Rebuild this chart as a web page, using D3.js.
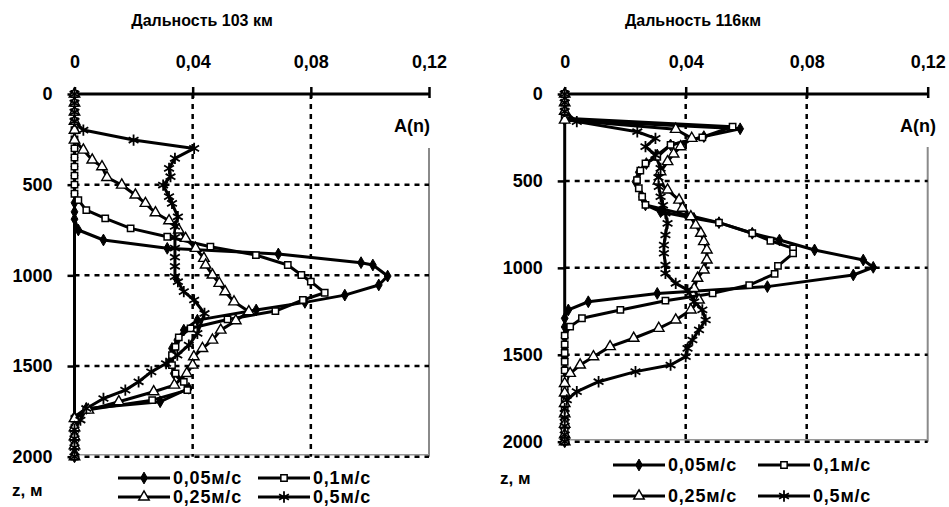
<!DOCTYPE html>
<html>
<head>
<meta charset="utf-8">
<script src="https://d3js.org/d3.v7.min.js"></script>
<style>
  body { margin: 0; background: #fff; }
  svg text { font-family: "Liberation Sans", Arial, sans-serif; font-weight: bold; fill: #000; }
</style>
</head>
<body>
<div id="chart"></div>
<script>
// x ticks, y ticks
const xTicks = [0, 0.04, 0.08, 0.12];
const zTicks = [0, 500, 1000, 1500, 2000];
const seriesNames = ["0,05м/с", "0,1м/с", "0,25м/с", "0,5м/с"];

// 103 km, pairs [A(n), z]
const left005 = [[0,0],[0,50],[0,100],[0,150],[0,200],[0,250],[0,300],[0,350],[0,400],[0,450],[0,500],[0,550],[0,600],[0,650],[0,690],
  [0.0013,750],[0.0098,805],[0.0314,851],[0.069,882],[0.097,930],[0.101,943],[0.106,1004],[0.103,1053],[0.0915,1109],[0.078,1149],
  [0.0615,1191],[0.0416,1247],[0.037,1302],[0.0348,1357],[0.033,1403],[0.0325,1467],[0.0336,1541],[0.0387,1623],[0.029,1697],
  [0.004,1734],[0,1780],[0,1830],[0,1880],[0,1930],[0,1980],[0,2000]];
const left01 = [[0,0],[0,50],[0,100],[0,150],[0,200],[0,250],[0,300],[0,350],[0,400],[0,450],[0,500],[0,550],
  [0.0013,585],[0.004,640],[0.0104,686],[0.019,741],[0.0314,787],[0.046,842],[0.0614,888],[0.0722,943],[0.0768,998],[0.080,1035],
  [0.0847,1096],[0.0773,1136],[0.068,1197],[0.0518,1243],[0.0393,1292],[0.0353,1342],[0.0342,1394],[0.033,1440],[0.033,1495],
  [0.0342,1541],[0.037,1587],[0.0382,1633],[0.0263,1688],[0.004,1743],[0,1790],[0,1840],[0,1890],[0,1940],[0,2000]];
const left025 = [[0,0],[0,50],[0,100],[0,150],[0,200],[0,254],[0.003,309],[0.006,364],[0.0093,401],[0.011,460],[0.016,502],
  [0.0206,557],[0.024,603],[0.0274,655],[0.032,699],[0.0353,750],[0.0376,796],[0.041,851],[0.0438,906],[0.0444,943],[0.0467,998],
  [0.049,1044],[0.051,1090],[0.054,1146],[0.059,1200],[0.0546,1250],[0.0495,1302],[0.0467,1357],[0.0433,1403],[0.0404,1449],
  [0.040,1495],[0.038,1541],[0.0338,1605],[0.0268,1642],[0.015,1697],[0.0047,1743],[0,1790],[0,1840],[0,1890],[0,1940],[0,2000]];
const left05 = [[0,0],[0,50],[0,100],[0,150],[0.003,199],[0.020,254],[0.0405,300],[0.034,355],[0.032,410],[0.0325,456],[0.030,502],
  [0.032,566],[0.033,603],[0.035,677],[0.034,730],[0.034,790],[0.034,850],[0.034,900],[0.034,950],[0.034,1007],[0.035,1035],
  [0.037,1090],[0.0405,1136],[0.044,1210],[0.0416,1320],[0.0387,1385],[0.0348,1440],[0.031,1486],[0.026,1532],[0.0217,1587],
  [0.0172,1633],[0.0098,1679],[0.004,1734],[0.002,1798],[0,1850],[0,1900],[0,1950],[0,2000]];

// 116 km
const right005 = [[0,0],[0,50],[0,100],[0,150],[0.058,200],[0.046,245],[0.035,293],[0.0306,351],[0.027,400],[0.0245,450],
  [0.0234,504],[0.0256,591],[0.0267,638],[0.0317,677],[0.0427,715],[0.051,740],[0.062,801],[0.071,840],[0.0826,897],[0.0987,955],
  [0.102,997],[0.0954,1041],[0.067,1108],[0.0306,1147],[0.0078,1195],[0.0012,1242],[0,1290],[0,1340],[0,1400],[0,1460],[0,1520],
  [0,1580],[0,1640],[0,1700],[0,1760],[0,1820],[0,1880],[0,1940],[0,2000]];
const right01 = [[0,0],[0,50],[0,100],[0,140],[0.0555,188],[0.0455,249],[0.035,293],[0.0306,361],[0.0267,399],[0.025,441],
  [0.0239,495],[0.0245,542],[0.0256,591],[0.0267,638],[0.051,740],[0.062,801],[0.068,844],[0.0755,888],[0.0755,917],[0.0705,989],
  [0.0694,1035],[0.061,1099],[0.0489,1147],[0.0333,1189],[0.0184,1242],[0.0057,1290],[0.0018,1338],[0,1390],[0,1440],[0,1490],
  [0,1540],[0,1590],[0,1640],[0,1700],[0,1760],[0,1820],[0,1880],[0,1940],[0,2000]];
const right025 = [[0,0],[0,50],[0,100],[0,150],[0.0367,203],[0.042,255],[0.0383,303],[0.036,345],[0.034,389],[0.0317,447],
  [0.031,500],[0.034,552],[0.0378,610],[0.0389,657],[0.0417,706],[0.0433,754],[0.045,801],[0.046,849],[0.047,897],[0.047,955],
  [0.046,1012],[0.0439,1060],[0.0428,1118],[0.0444,1185],[0.0417,1242],[0.0367,1300],[0.0311,1348],[0.0228,1405],[0.015,1453],
  [0.0095,1511],[0.0051,1559],[0.0018,1607],[0,1665],[0,1720],[0,1780],[0,1840],[0,1900],[0,1960],[0,2000]];
const right05 = [[0,0],[0,50],[0,100],[0.004,159],[0.024,217],[0.030,255],[0.0267,303],[0.030,351],[0.0317,428],[0.031,480],
  [0.0311,533],[0.0317,591],[0.0325,640],[0.0333,686],[0.034,744],[0.0333,811],[0.0328,869],[0.0328,916],[0.0333,984],
  [0.0333,1031],[0.0367,1089],[0.0406,1127],[0.0428,1195],[0.0455,1242],[0.0466,1300],[0.0444,1357],[0.0422,1415],[0.0406,1463],
  [0.040,1511],[0.035,1559],[0.0234,1597],[0.0112,1655],[0.004,1712],[0.0007,1760],[0,1810],[0,1860],[0,1910],[0,1960],[0,2000]];

const W = 949, H = 507;
const svg = d3.select("#chart").append("svg").attr("width", W).attr("height", H);

const fmt = d => d === 0 ? "0" : d.toFixed(2).replace(".", ",");

const markers = [
  {type: d3.symbolDiamond, size: 40, fill: "#000", sw: 1},
  {type: d3.symbolSquare, size: 40, fill: "#fff", sw: 1.5},
  {type: d3.symbolTriangle, size: 48, fill: "#fff", sw: 1.4},
  {type: d3.symbolAsterisk, size: 90, fill: "none", sw: 1.8}
];

function drawPanel(cfg) {
  const x = d3.scaleLinear().domain([0, 0.12]).range([cfg.x0, cfg.x1]);
  const y = d3.scaleLinear().domain([0, 2000]).range([cfg.y0, cfg.y1]);
  const g = svg.append("g");

  g.append("text").attr("x", cfg.titleX).attr("y", 26).attr("text-anchor", "middle")
    .style("font-size", "16px").text(cfg.title);

  // gray plot border (right and bottom)
  g.append("line").attr("x1", x(0.12)).attr("x2", x(0.12)).attr("y1", cfg.borderTop).attr("y2", y(2000))
    .attr("stroke", "#8a8a8a").attr("stroke-width", 2);
  g.append("line").attr("x1", x(0)).attr("x2", x(0.12)).attr("y1", y(2000) - 2).attr("y2", y(2000) - 2)
    .attr("stroke", "#9a9a9a").attr("stroke-width", 1.5);

  // dashed grid
  g.selectAll(".vg").data([0.04, 0.08]).join("line")
    .attr("x1", d => x(d)).attr("x2", d => x(d)).attr("y1", y(0)).attr("y2", y(2000))
    .attr("stroke", "#000").attr("stroke-width", 2.5).attr("stroke-dasharray", "5,5");
  g.selectAll(".hg").data([500, 1000, 1500, 2000]).join("line")
    .attr("x1", x(0)).attr("x2", x(0.12)).attr("y1", d => y(d)).attr("y2", d => y(d))
    .attr("stroke", "#000").attr("stroke-width", 2.5).attr("stroke-dasharray", "5,5");

  // top axis
  const ax = g.append("g").attr("transform", `translate(0,${y(0)})`)
    .call(d3.axisTop(x).tickValues(xTicks).tickFormat(fmt).tickSize(7).tickPadding(19));
  ax.select(".domain").attr("stroke-width", 3).attr("d", `M${x(0)},0H${x(0.12)}`);
  ax.selectAll(".tick line").attr("stroke-width", 2.5).attr("y2", -7).attr("y1", 4);
  ax.selectAll(".tick text").style("font-size", "18px").style("font-family", "Liberation Sans, Arial, sans-serif")
    .style("font-weight", "bold");

  // left axis
  const ay = g.append("g").attr("transform", `translate(${x(0)},0)`)
    .call(d3.axisLeft(y).tickValues(zTicks).tickFormat(d3.format("d")).tickSize(7).tickPadding(15));
  ay.select(".domain").attr("stroke-width", 3).attr("d", `M0,${y(0)}V${y(2000)}`);
  ay.selectAll(".tick line").attr("stroke-width", 2.5);
  ay.selectAll(".tick text").style("font-size", "18px").style("font-family", "Liberation Sans, Arial, sans-serif")
    .style("font-weight", "bold");

  // A(n) label
  g.append("rect").attr("x", x(0.12) - 36).attr("y", cfg.y0 + 16).attr("width", 46).attr("height", cfg.borderTop - cfg.y0 - 16)
    .attr("fill", "#fff");
  g.append("text").attr("x", cfg.anX).attr("y", 132).style("font-size", "18px").text("A(n)");

  // series
  const line = d3.line().x(d => x(d[0])).y(d => y(d[1]));
  cfg.series.forEach((s, i) => {
    g.append("path").datum(s).attr("d", line).attr("fill", "none")
      .attr("stroke", "#000").attr("stroke-width", 3).attr("stroke-linejoin", "round");
  });
  cfg.series.forEach((s, i) => {
    const m = markers[i];
    g.selectAll(null).data(s).join("path")
      .attr("transform", d => `translate(${x(d[0])},${y(d[1])})`)
      .attr("d", d3.symbol().type(m.type).size(m.size))
      .attr("fill", m.fill).attr("stroke", "#000").attr("stroke-width", m.sw);
  });

  // z label
  g.append("text").attr("x", cfg.zX).attr("y", cfg.zY).style("font-size", "17px").text("z, м");

  // legend
  const lg = g.append("g");
  seriesNames.forEach((name, i) => {
    const col = i % 2, row = Math.floor(i / 2);
    const lx = cfg.legX[col], ly = cfg.legY[row];
    lg.append("line").attr("x1", lx).attr("x2", lx + 52).attr("y1", ly).attr("y2", ly)
      .attr("stroke", "#000").attr("stroke-width", 3);
    const m = markers[i];
    lg.append("path").attr("transform", `translate(${lx + 26},${ly})`)
      .attr("d", d3.symbol().type(m.type).size(m.size)).attr("fill", m.fill)
      .attr("stroke", "#000").attr("stroke-width", m.sw);
    lg.append("text").attr("x", lx + 55).attr("y", ly + 6).style("font-size", "18px")
      .style("letter-spacing", "0.8px").text(name);
  });
}

drawPanel({
  title: "Дальность 103 км", titleX: 202,
  x0: 74.5, x1: 429, y0: 94, y1: 456.7, borderTop: 148,
  anX: 394, zX: 12, zY: 496,
  legX: [118, 258], legY: [478, 497],
  series: [left005, left01, left025, left05]
});
drawPanel({
  title: "Дальность 116км", titleX: 693,
  x0: 564.7, x1: 927.7, y0: 94, y1: 441.7, borderTop: 147,
  anX: 900, zX: 500, zY: 484,
  legX: [613, 758], legY: [465, 496],
  series: [right005, right01, right025, right05]
});
</script>
</body>
</html>
